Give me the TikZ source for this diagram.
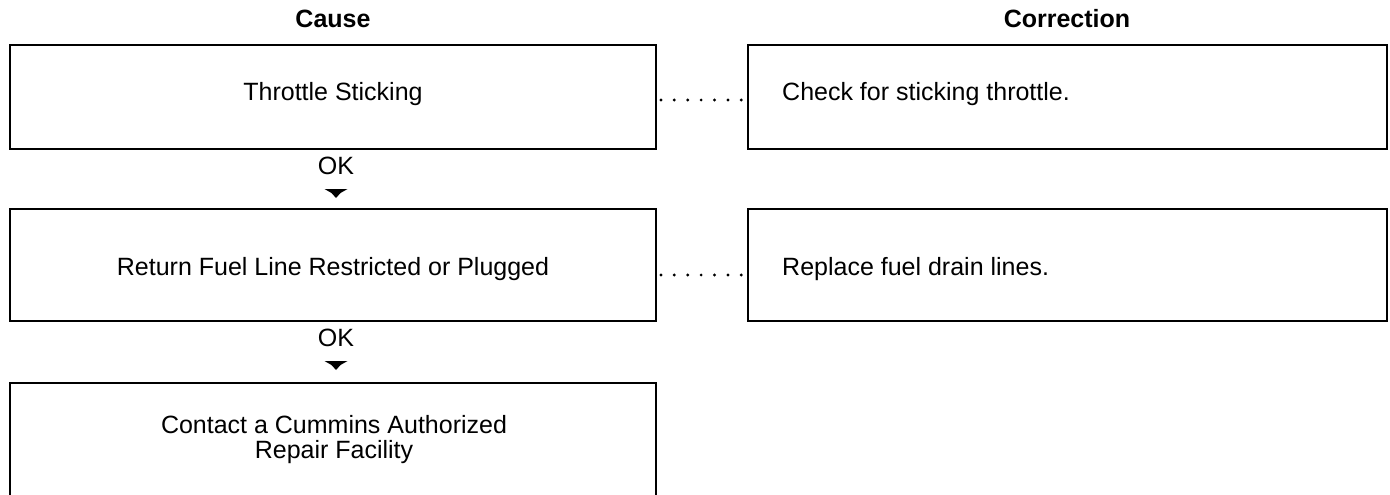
\documentclass[tikz,border=0pt]{standalone}
\usepackage{fontspec}
\setmainfont{Liberation Sans}
\begin{document}
\begin{tikzpicture}[x=1pt,y=-1pt,
  box/.style={draw,line width=1.8pt,inner sep=0pt},
  txt/.style={font=\fontsize{25}{25.5}\selectfont,inner sep=0pt},
  head/.style={font=\fontsize{25}{28}\selectfont\bfseries,inner sep=0pt},
  leader/.style={line width=3.2pt,line cap=round,dash pattern=on 0pt off 13.4pt},
  okarrow/.style={fill=black}]
\useasboundingbox (0,0) rectangle (1390,495);
% headers
\node[head,anchor=base] (hcause) at (333,28) {Cause};
\node[head,anchor=base] (hcorr) at (1067,28) {Correction};
% cause boxes
\node[box,minimum width=646pt,minimum height=104pt] (b1) at (333,97) {};
\node[box,minimum width=646pt,minimum height=112pt] (b2) at (333,265) {};
\node[inner sep=0pt,minimum width=646pt,minimum height=112pt] (b3) at (333,439) {};
\draw[line width=1.8pt] (b3.south west) |- (b3.north east) -- (b3.south east);
% correction boxes
\node[box,minimum width=639pt,minimum height=104pt] (c1) at (1067.5,97) {};
\node[box,minimum width=639pt,minimum height=112pt] (c2) at (1067.5,265) {};
% texts
\node[txt,anchor=base] (t1) at (333,100) {Throttle Sticking};
\node[txt,anchor=base] (t2) at (333,275) {Return Fuel Line Restricted or Plugged};
\node[txt,align=center,anchor=north] (t3) at (334,415) {Contact a Cummins Authorized\\Repair Facility};
\node[txt,anchor=base west] (u1) at (782,100) {Check for sticking throttle.};
\node[txt,anchor=base west] (u2) at (782,275) {Replace fuel drain lines.};
% OK labels
\node[txt,anchor=base] (ok1) at (336,174) {OK};
\node[txt,anchor=base] (ok2) at (336,346) {OK};
\coordinate (a1) at (336,189);
\coordinate (a2) at (336,361);
\foreach \a in {a1,a2}
  \fill[okarrow] (\a) ++(-11.5,0) -- ++(23,0) -- ++(-7,4) -- ++(-4.5,5) -- ++(-4.5,-5) -- cycle;
% leaders
\draw[leader] ([xshift=4pt]b1.east |- t1.base) -- ([xshift=-4pt]c1.west |- t1.base);
\draw[leader] ([xshift=4pt]b2.east |- t2.base) -- ([xshift=-4pt]c2.west |- t2.base);
\end{tikzpicture}
\end{document}
